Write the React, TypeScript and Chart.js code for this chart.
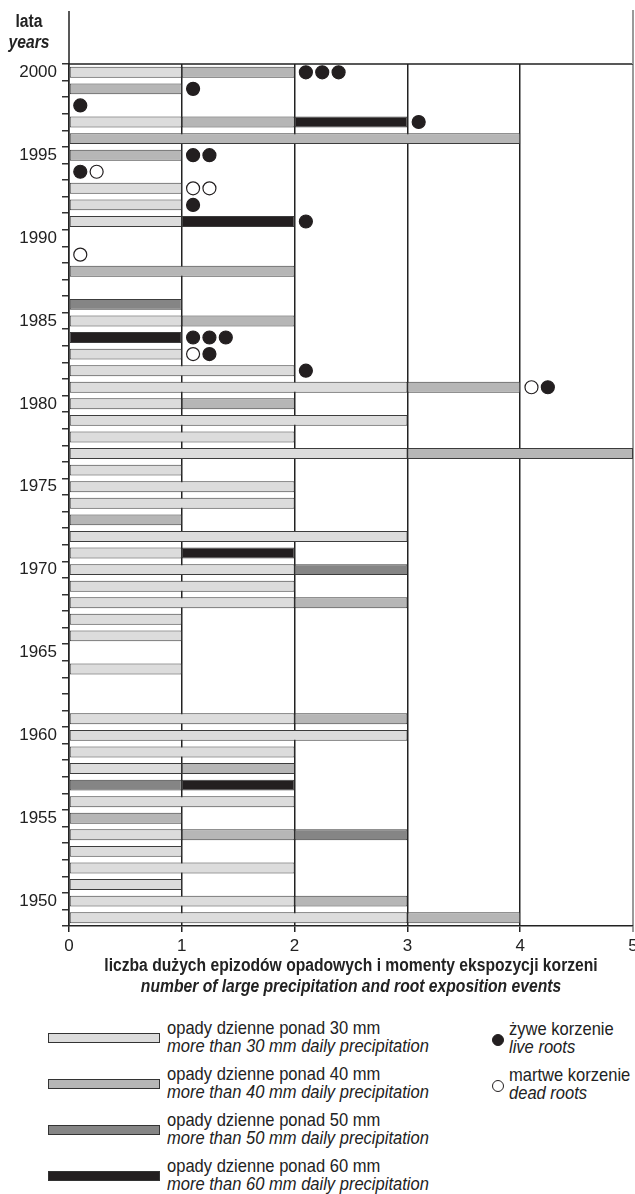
import React, { useEffect, useRef } from "react";
import { Chart, registerables } from "chart.js";

Chart.register(...registerables);

const FONT = '"Liberation Sans", Arimo, Arial, sans-serif';
const NARROW = 0.87;

// categories (top to bottom)
const years = [
  "2000", "1999", "1998", "1997", "1996", "1995", "1994", "1993", "1992", "1991",
  "1990", "1989", "1988", "1987", "1986", "1985", "1984", "1983", "1982", "1981",
  "1980", "1979", "1978", "1977", "1976", "1975", "1974", "1973", "1972", "1971",
  "1970", "1969", "1968", "1967", "1966", "1965", "1964", "1963", "1962", "1961",
  "1960", "1959", "1958", "1957", "1956", "1955", "1954", "1953", "1952", "1951",
  "1950", "1949",
];

// number of days with daily precipitation above thresholds
const over30 = [1,0,0,1,0,0,0,1,1,1, 0,0,0,0,0,1,0,1,2,3, 1,3,2,3,1,2,2,0,3,1, 2,2,2,1,1,0,1,0,0,2, 3,2,1,0,2,0,1,1,2,1, 2,3];
const over40 = [1,1,0,1,4,1,0,0,0,0, 0,0,2,0,0,1,0,0,0,1, 1,0,0,2,0,0,0,1,0,0, 0,0,1,0,0,0,0,0,0,1, 0,0,1,0,0,1,1,0,0,0, 1,1];
const over50 = [0,0,0,0,0,0,0,0,0,0, 0,0,0,0,1,0,0,0,0,0, 0,0,0,0,0,0,0,0,0,0, 1,0,0,0,0,0,0,0,0,0, 0,0,0,1,0,0,1,0,0,0, 0,0];
const over60 = [0,0,0,1,0,0,0,0,0,1, 0,0,0,0,0,0,1,0,0,0, 0,0,0,0,0,0,0,0,0,1, 0,0,0,0,0,0,0,0,0,0, 0,0,0,1,0,0,0,0,0,0, 0,0];

// root exposition events: L = live root, D = dead root (in drawn order)
const rootYears = ["2000", "1999", "1998", "1997", "1995", "1994", "1993", "1992", "1991", "1989", "1984", "1983", "1982", "1981"];
const rootEvents = ["LLL", "L", "L", "L", "LL", "LD", "DD", "L", "L", "D", "LLL", "DL", "L", "DL"];

const xTicks = [0, 1, 2, 3, 4, 5];

const seriesLabelsPl = [
  "opady dzienne ponad 30 mm",
  "opady dzienne ponad 40 mm",
  "opady dzienne ponad 50 mm",
  "opady dzienne ponad 60 mm",
];
const seriesLabelsEn = [
  "more than 30 mm daily precipitation",
  "more than 40 mm daily precipitation",
  "more than 50 mm daily precipitation",
  "more than 60 mm daily precipitation",
];
const seriesColors = ["#dcdcdc", "#b6b6b6", "#858585", "#231f20"];

const titlePl = "liczba dużych epizodów opadowych i momenty ekspozycji korzeni";
const titleEn = "number of large precipitation and root exposition events";

const frameExt = {
  id: "frameExt",
  afterDraw(chart: any) {
    const { ctx, chartArea } = chart;
    const { left, right, top } = chartArea;
    ctx.save();
    ctx.lineWidth = 1.5;
    ctx.strokeStyle = "#222";
    ctx.beginPath();
    ctx.moveTo(left, 11);
    ctx.lineTo(left, top);
    ctx.moveTo(left, top);
    ctx.lineTo(right, top);
    ctx.stroke();
    ctx.strokeStyle = "#9a9a9a";
    ctx.lineWidth = 2;
    ctx.beginPath();
    ctx.moveTo(right, 10);
    ctx.lineTo(right, top);
    ctx.stroke();
    ctx.restore();
  },
};

function App() {
  const ref = useRef<HTMLCanvasElement | null>(null);

  useEffect(() => {
    document.body.style.margin = "0";
    const canvas = ref.current;
    if (!canvas) return;

    const totals = years.map((_, i) => over30[i] + over40[i] + over50[i] + over60[i]);
    const live: any[] = [];
    const dead: any[] = [];
    rootYears.forEach((y, k) => {
      const idx = years.indexOf(y);
      const seq = rootEvents[k];
      for (let j = 0; j < seq.length; j++) {
        const pt = { x: totals[idx] + 0.1 + j * 0.145, y };
        if (seq[j] === "L") live.push(pt);
        else dead.push(pt);
      }
    });

    const nz = (a: number[]) => a.map((v) => (v === 0 ? null : v));
    const barCommon = {
      type: "bar" as const,
      borderWidth: 1,
      borderColor: "#3c3c3c",
      borderSkipped: false,
      barPercentage: 0.66,
      categoryPercentage: 1,
      stack: "precip",
    };

    const chart = new Chart(canvas, {
      type: "bar",
      data: {
        labels: years,
        datasets: [
          { ...barCommon, label: seriesLabelsPl[0], data: nz(over30), backgroundColor: seriesColors[0] },
          { ...barCommon, label: seriesLabelsPl[1], data: nz(over40), backgroundColor: seriesColors[1] },
          { ...barCommon, label: seriesLabelsPl[2], data: nz(over50), backgroundColor: seriesColors[2] },
          { ...barCommon, label: seriesLabelsPl[3], data: nz(over60), backgroundColor: seriesColors[3] },
          {
            type: "scatter" as const,
            label: "żywe korzenie",
            data: live,
            stack: "live",
            pointRadius: 6.5,
            pointHoverRadius: 6.5,
            pointBackgroundColor: "#231f20",
            pointBorderColor: "#231f20",
            pointBorderWidth: 1.2,
          } as any,
          {
            type: "scatter" as const,
            label: "martwe korzenie",
            data: dead,
            stack: "dead",
            pointRadius: 6.5,
            pointHoverRadius: 6.5,
            pointBackgroundColor: "#ffffff",
            pointBorderColor: "#231f20",
            pointBorderWidth: 1.2,
          } as any,
        ],
      },
      options: {
        animation: false,
        responsive: false,
        maintainAspectRatio: false,
        indexAxis: "y",
        layout: { autoPadding: false, padding: { top: 64, right: 2, left: 0, bottom: 0 } },
        plugins: { legend: { display: false }, tooltip: { enabled: false } },
        scales: {
          x: {
            type: "linear",
            min: 0,
            max: 5,
            stacked: true,
            z: 1,
            afterBuildTicks: (s: any) => {
              s.ticks = xTicks.map((v) => ({ value: v }));
            },
            afterFit: (s: any) => {
              s.height = 30;
              s.paddingLeft = 0;
              s.paddingRight = 0;
            },
            ticks: { color: "#222", font: { family: FONT, size: 17 }, padding: 4 },
            grid: {
              color: (c: any) => (c.tick && c.tick.value === 5 ? "#9a9a9a" : "#222"),
              lineWidth: (c: any) => (c.tick && c.tick.value === 5 ? 2 : 1.5),
              tickLength: 6,
            },
            border: { display: true, color: "#222", width: 1.5 },
          },
          y: {
            type: "category",
            labels: years,
            stacked: true,
            offset: true,
            afterFit: (s: any) => {
              s.width = 69;
              s.paddingTop = 0;
              s.paddingBottom = 0;
            },
            ticks: {
              autoSkip: false,
              color: "#222",
              font: { family: FONT, size: 17 },
              padding: 5,
              callback: (_v: any, i: number) => (Number(years[i]) % 5 === 0 ? years[i] : ""),
            },
            grid: { drawOnChartArea: false, offset: true, tickLength: 7, color: "#333", lineWidth: 1.5 },
            border: { display: true, color: "#222", width: 1.5 },
          },
        },
      } as any,
      plugins: [frameExt],
    });
    return () => chart.destroy();
  }, []);

  const txt: React.CSSProperties = {
    position: "absolute",
    fontFamily: FONT,
    color: "#222",
    whiteSpace: "nowrap",
  };

  return (
    <div style={{ position: "relative", width: 635, height: 1194, overflow: "hidden", background: "#fff" }}>
      <canvas ref={ref} width={635} height={956} style={{ position: "absolute", left: 0, top: 0, width: 635, height: 956 }} />
      <div
        style={{
          ...txt,
          left: -21,
          width: 100,
          top: 11,
          textAlign: "center",
          fontSize: 18,
          lineHeight: "21px",
          fontWeight: "bold",
          transform: `scaleX(${NARROW})`,
          transformOrigin: "center",
        }}
      >
        lata
        <br />
        <i>years</i>
      </div>
      <div
        style={{
          ...txt,
          left: -49,
          width: 800,
          top: 955,
          textAlign: "center",
          fontSize: 18,
          lineHeight: "21px",
          fontWeight: "bold",
          transform: `scaleX(${NARROW})`,
          transformOrigin: "center",
        }}
      >
        {titlePl}
        <br />
        <i>{titleEn}</i>
      </div>
      {seriesLabelsPl.map((lab, i) => {
        const cy = 1038 + i * 46;
        return (
          <React.Fragment key={lab}>
            <div
              style={{
                position: "absolute",
                left: 48,
                top: cy - 5,
                width: 112,
                height: 10,
                boxSizing: "border-box",
                background: seriesColors[i],
                border: "1px solid #333",
              }}
            />
            <div
              style={{
                ...txt,
                left: 167,
                top: cy - 19,
                fontSize: 19,
                lineHeight: "18px",
                transform: `scaleX(${NARROW})`,
                transformOrigin: "left",
              }}
            >
              {lab}
              <br />
              <i>{seriesLabelsEn[i]}</i>
            </div>
          </React.Fragment>
        );
      })}
      {[
        { pl: "żywe korzenie", en: "live roots", fill: "#231f20", cy: 1040 },
        { pl: "martwe korzenie", en: "dead roots", fill: "#ffffff", cy: 1086 },
      ].map((r) => (
        <React.Fragment key={r.pl}>
          <div
            style={{
              position: "absolute",
              left: 492,
              top: r.cy - 6,
              width: 12,
              height: 12,
              boxSizing: "border-box",
              borderRadius: "50%",
              background: r.fill,
              border: "1.2px solid #231f20",
            }}
          />
          <div
            style={{
              ...txt,
              left: 509,
              top: r.cy - 20,
              fontSize: 19,
              lineHeight: "18px",
              transform: `scaleX(${NARROW})`,
              transformOrigin: "left",
            }}
          >
            {r.pl}
            <br />
            <i>{r.en}</i>
          </div>
        </React.Fragment>
      ))}
    </div>
  );
}

export default App;
